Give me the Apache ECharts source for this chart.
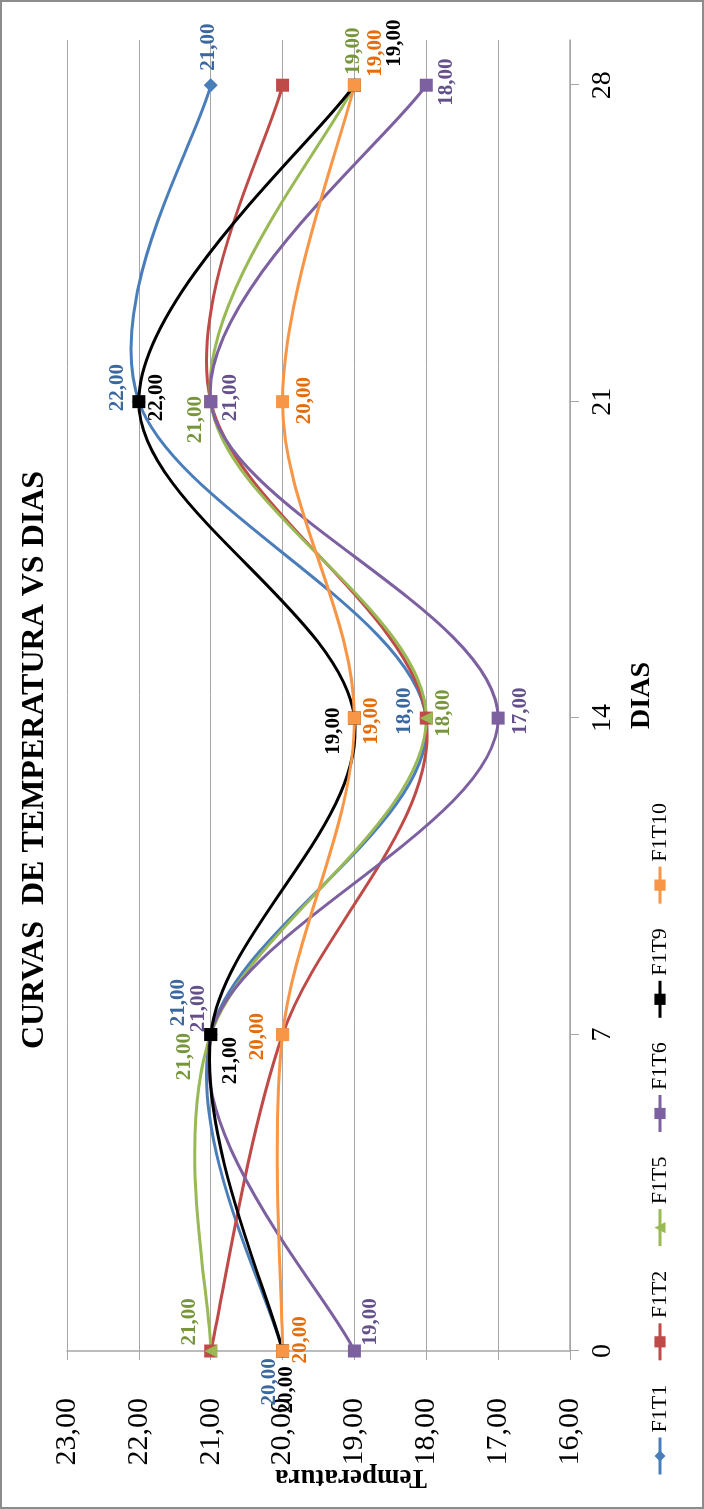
<!DOCTYPE html>
<html>
<head>
<meta charset="utf-8">
<script src="https://cdn.jsdelivr.net/npm/echarts@6/dist/echarts.min.js"></script>
<style>
  html, body { margin: 0; padding: 0; background: #fff; overflow: hidden; width: 704px; height: 1509px; }
  /* the chart is laid out landscape and turned a quarter turn counter-clockwise */
  #chart { position: absolute; left: 0; top: 0; width: 1509px; height: 704px;
           transform-origin: 0 0; transform: translate(0, 1509px) rotate(-90deg); }
</style>
</head>
<body>
<div id="chart"></div>
<script>
// ---- data ----
const days = [0, 7, 14, 21, 28];
const dayTicks = [0, 7, 14, 21, 28];
const seriesNames = ['F1T1', 'F1T2', 'F1T5', 'F1T6', 'F1T9', 'F1T10'];
const f1t1  = [20, 21, 18, 22, 21];
const f1t2  = [21, 20, 18, 21, 20];
const f1t5  = [21, 21, 18, 21, 19];
const f1t6  = [19, 21, 17, 21, 18];
const f1t9  = [20, 21, 19, 22, 19];
const f1t10 = [20, 20, 19, 20, 19];
const seriesValues = [f1t1, f1t2, f1t5, f1t6, f1t9, f1t10];

// ---- styling ----
const serif = "'Liberation Serif', 'Times New Roman', serif";
const seriesStyle = [
  { color: '#4a7ebb', labelColor: '#3b679f', symbol: 'diamond',  size: 14 },
  { color: '#be4b48', labelColor: '#be4b48', symbol: 'rect',     size: 13 },
  { color: '#98b954', labelColor: '#77963c', symbol: 'triangle', size: 13 },
  { color: '#7d60a0', labelColor: '#64508a', symbol: 'rect',     size: 13 },
  { color: '#000000', labelColor: '#000000', symbol: 'rect',     size: 13 },
  { color: '#f79646', labelColor: '#e46c0a', symbol: 'rect',     size: 13 }
];
// value label placement, [dx, dy] from each point (null = no labels)
const labelOffsets = [
  [[-31, -13], [32, -32], [7, -22], [14, -21], [38, -2]],
  null,
  [[29, -21], [-22, -26], [5, 17], [-18, -15], [34, -1]],
  [[29, 16], [26, -12], [7, 22], [4, 20], [3, 20]],
  [[-39, 4], [-26, 20], [-13, -21], [4, 18], [42, 40]],
  [[11, 18], [-2, -25], [-3, 17], [1, 22], [32, 21]]
];

const fmt = v => v.toFixed(2).replace('.', ',');
const gridGray = '#a6a6a6';

// smooth curve through the projected points (cardinal spline, 1/6 tangent factor)
function curveRenderer(values, color) {
  return function (params, api) {
    if (params.dataIndex !== 0) return null;
    const pts = values.map((v, j) => api.coord([days[j], v]));
    const n = pts.length;
    let d = 'M' + pts[0][0] + ',' + pts[0][1];
    for (let j = 0; j < n - 1; j++) {
      const p0 = pts[Math.max(j - 1, 0)];
      const p1 = pts[j];
      const p2 = pts[j + 1];
      const p3 = pts[Math.min(j + 2, n - 1)];
      const c1x = p1[0] + (p2[0] - p0[0]) / 6, c1y = p1[1] + (p2[1] - p0[1]) / 6;
      const c2x = p2[0] - (p3[0] - p1[0]) / 6, c2y = p2[1] - (p3[1] - p1[1]) / 6;
      d += ' C' + c1x + ',' + c1y + ' ' + c2x + ',' + c2y + ' ' + p2[0] + ',' + p2[1];
    }
    return {
      type: 'path',
      shape: { pathData: d },
      style: { stroke: color, lineWidth: 3, fill: 'none', lineJoin: 'round', lineCap: 'round' }
    };
  };
}

// markers + value labels (the connecting line is drawn by the curve series)
const pointSeries = seriesNames.map((name, i) => {
  const st = seriesStyle[i];
  const offs = labelOffsets[i];
  return {
    name: name,
    type: 'line',
    z: 3,
    symbol: st.symbol,
    symbolSize: st.size,
    showSymbol: true,
    lineStyle: { color: st.color, width: 3, opacity: 0 },
    itemStyle: { color: st.color, borderWidth: 0 },
    emphasis: { disabled: true },
    label: {
      show: !!offs,
      position: 'inside',
      color: st.labelColor,
      textBorderWidth: 0,
      fontFamily: serif,
      fontWeight: 'bold',
      fontSize: 21,
      align: 'center',
      verticalAlign: 'middle',
      formatter: p => fmt(p.value[1])
    },
    data: days.map((d, j) => {
      const item = { value: [d, seriesValues[i][j]] };
      if (offs) item.label = { offset: offs[j] };
      return item;
    })
  };
});

const curveSeries = seriesNames.map((name, i) => ({
  name: name,
  type: 'custom',
  z: 1,
  silent: true,
  clip: false,
  encode: { x: 0, y: 1 },
  renderItem: curveRenderer(seriesValues[i], seriesStyle[i].color),
  data: days.map((d, j) => [d, seriesValues[i][j]])
}));

const chart = echarts.init(document.getElementById('chart'), null, { renderer: 'canvas' });
chart.setOption({
  animation: false,
  backgroundColor: '#ffffff',
  grid: { left: 158, right: 40, top: 67, bottom: 134, containLabel: false },
  legend: {
    data: seriesNames.map((n, i) => ({
      name: n,
      itemStyle: { color: seriesStyle[i].color, opacity: 1 },
      lineStyle: { color: seriesStyle[i].color, width: 3, opacity: 1 }
    })),
    orient: 'horizontal',
    left: 33,
    top: 649,
    padding: 0,
    itemWidth: 37,
    itemHeight: 14,
    itemGap: 23,
    textStyle: { fontFamily: serif, fontSize: 22, color: '#000' }
  },
  xAxis: {
    type: 'value',
    min: 0,
    max: 29,
    interval: 7,
    name: 'DIAS',
    nameLocation: 'middle',
    nameGap: 58,
    nameTextStyle: { fontFamily: serif, fontSize: 28, fontWeight: 'bold', color: '#000' },
    axisLine: { show: true, onZero: false, lineStyle: { color: gridGray, width: 1.5 } },
    axisTick: { show: true, inside: false, length: 9, customValues: dayTicks, lineStyle: { color: gridGray } },
    axisLabel: { customValues: dayTicks, margin: 19, fontFamily: serif, fontSize: 28, color: '#000' },
    splitLine: { show: false }
  },
  yAxis: {
    type: 'value',
    min: 16,
    max: 23,
    interval: 1,
    axisLine: { show: true, lineStyle: { color: gridGray, width: 1.5 } },
    axisTick: { show: true, inside: false, length: 9, lineStyle: { color: gridGray } },
    axisLabel: { margin: 47, fontFamily: serif, fontSize: 30, color: '#000', formatter: v => fmt(v) },
    splitLine: { show: true, lineStyle: { color: gridGray, width: 1 } }
  },
  graphic: [
    {
      type: 'text', x: 749, y: 35,
      style: { text: 'CURVAS  DE TEMPERATURA VS DIAS', fill: '#000',
               font: "bold 32px 'Liberation Serif', 'Times New Roman', serif",
               align: 'center', verticalAlign: 'middle' }
    },
    {
      type: 'text', x: 32, y: 351, rotation: Math.PI / 2,
      style: { text: 'Temperatura', fill: '#000',
               font: "bold 27px 'Liberation Serif', 'Times New Roman', serif",
               align: 'center', verticalAlign: 'middle' }
    },
    {
      type: 'rect', z: 100,
      shape: { x: 1, y: 1, width: 1507, height: 702 },
      style: { fill: 'none', stroke: '#8c8c8c', lineWidth: 2 }
    }
  ],
  series: pointSeries.concat(curveSeries)
});
</script>
</body>
</html>
